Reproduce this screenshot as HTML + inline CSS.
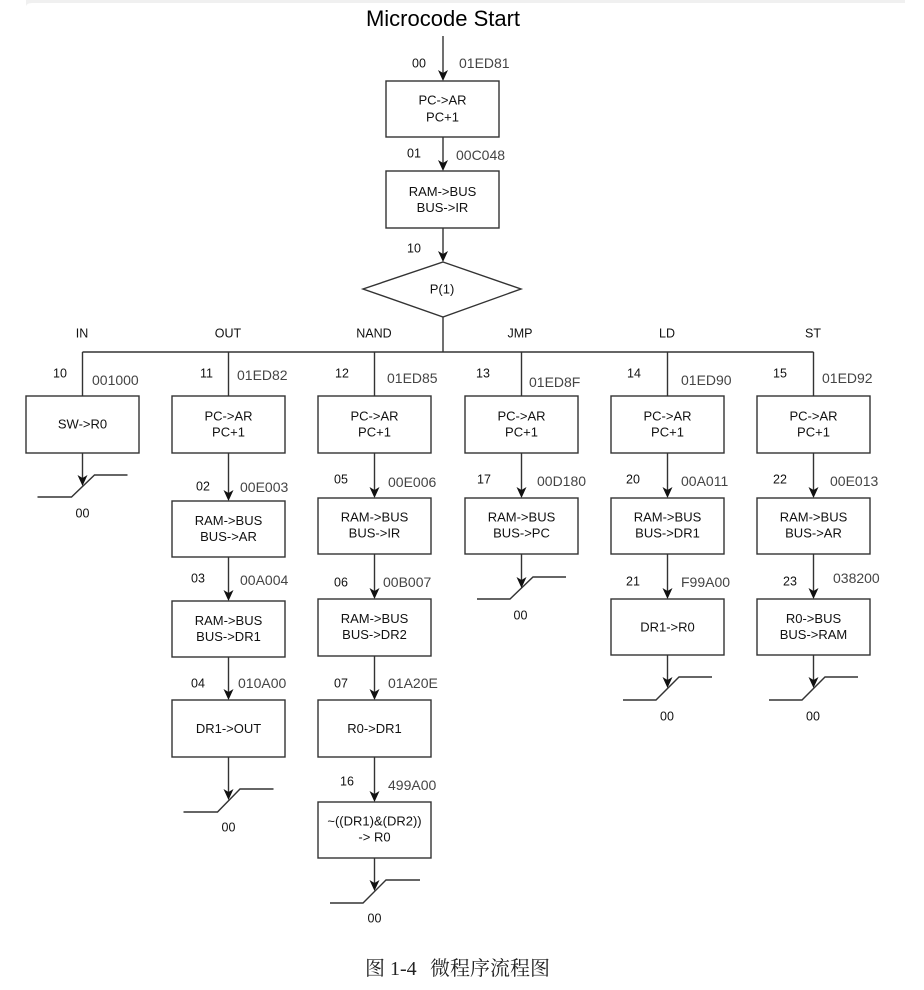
<!DOCTYPE html>
<html>
<head>
<meta charset="utf-8">
<style>
html,body{margin:0;padding:0;background:#fff;}
svg{display:block;}
.t{font-family:"Liberation Sans",Arial,sans-serif;font-size:13px;fill:#111;text-anchor:middle;}
.n{font-family:"Liberation Sans",Arial,sans-serif;font-size:12.5px;fill:#111;}
.h{font-family:"Liberation Sans",Arial,sans-serif;font-size:14px;fill:#444;}
.c{font-family:"Liberation Sans",Arial,sans-serif;font-size:12.5px;fill:#111;text-anchor:middle;}
.b{fill:#fff;stroke:#333;stroke-width:1.4;}
.l{stroke:#333;stroke-width:1.4;fill:none;}
.a{fill:#111;stroke:none;}
.cap{font-family:'Liberation Serif','Noto Serif CJK SC',serif;font-size:20px;fill:#222;}
</style>
</head>
<body>
<svg width="924" height="990" viewBox="0 0 924 990" xmlns="http://www.w3.org/2000/svg">
<path d="M26 0 H905 V3 H32 Q27 3 26 6 Z" fill="#f0f0f0"/>

<!-- Title -->
<text x="443" y="26" style="font-family:'Liberation Sans',Arial,sans-serif;font-size:22px;fill:#000;text-anchor:middle;">Microcode Start</text>

<!-- main trunk -->
<line class="l" x1="443" y1="36" x2="443" y2="76"/>
<path class="a" d="M443 81 L438 70 L443 73 L448 70 Z"/>
<rect class="b" x="386" y="81" width="113" height="56"/>
<text class="t" x="442.5" y="104.6">PC-&gt;AR</text>
<text class="t" x="442.5" y="121.6">PC+1</text>
<text class="n" x="412" y="67.5">00</text>
<text class="h" x="459" y="68">01ED81</text>

<line class="l" x1="443" y1="137" x2="443" y2="166"/>
<path class="a" d="M443 171 L438 160 L443 163 L448 160 Z"/>
<rect class="b" x="386" y="171" width="113" height="57"/>
<text class="t" x="442.5" y="196">RAM-&gt;BUS</text>
<text class="t" x="442.5" y="212">BUS-&gt;IR</text>
<text class="n" x="407" y="157.5">01</text>
<text class="h" x="456" y="160">00C048</text>

<line class="l" x1="443" y1="228" x2="443" y2="257"/>
<path class="a" d="M443 262 L438 251 L443 254 L448 251 Z"/>
<text class="n" x="407" y="252.5">10</text>
<polygon class="b" points="443,262 521,289 443,317 363,289"/>
<text class="t" x="442" y="293.6">P(1)</text>

<line class="l" x1="443" y1="317" x2="443" y2="352"/>
<line class="l" x1="82.5" y1="352" x2="813.5" y2="352"/>

<!-- column labels -->
<text class="c" x="82" y="337.5">IN</text>
<text class="c" x="228" y="337.5">OUT</text>
<text class="c" x="374" y="337.5">NAND</text>
<text class="c" x="520" y="337.5">JMP</text>
<text class="c" x="667" y="337.5">LD</text>
<text class="c" x="813" y="337.5">ST</text>

<!-- branch verticals -->
<line class="l" x1="82.5" y1="352" x2="82.5" y2="396"/>
<line class="l" x1="228.5" y1="352" x2="228.5" y2="396"/>
<line class="l" x1="374.5" y1="352" x2="374.5" y2="396"/>
<line class="l" x1="521.5" y1="352" x2="521.5" y2="396"/>
<line class="l" x1="667.5" y1="352" x2="667.5" y2="396"/>
<line class="l" x1="813.5" y1="352" x2="813.5" y2="396"/>

<!-- row1 labels -->
<text class="n" x="53" y="377.5">10</text><text class="h" x="92" y="385">001000</text>
<text class="n" x="200" y="377.5">11</text><text class="h" x="237" y="380">01ED82</text>
<text class="n" x="335" y="377.5">12</text><text class="h" x="387" y="383">01ED85</text>
<text class="n" x="476" y="377.5">13</text><text class="h" x="529" y="387">01ED8F</text>
<text class="n" x="627" y="377.5">14</text><text class="h" x="681" y="385">01ED90</text>
<text class="n" x="773" y="377.5">15</text><text class="h" x="822" y="383">01ED92</text>

<!-- ===== IN column ===== -->
<rect class="b" x="26" y="396" width="113" height="57"/>
<text class="t" x="82.5" y="428.6">SW-&gt;R0</text>
<line class="l" x1="82.5" y1="453" x2="82.5" y2="481"/>
<path class="l" d="M37.5 497 H71.5 L94.5 475 H127.5"/>
<path class="a" d="M82.5 486 L77.5 475 L82.5 478 L87.5 475 Z"/>
<text class="c" x="82.5" y="517.5">00</text>

<!-- ===== OUT column ===== -->
<rect class="b" x="172" y="396" width="113" height="57"/>
<text class="t" x="228.5" y="420.6">PC-&gt;AR</text>
<text class="t" x="228.5" y="436.6">PC+1</text>
<line class="l" x1="228.5" y1="453" x2="228.5" y2="496"/>
<path class="a" d="M228.5 501 L223.5 490 L228.5 493 L233.5 490 Z"/>
<text class="n" x="196" y="490.5">02</text><text class="h" x="240" y="492">00E003</text>
<rect class="b" x="172" y="501" width="113" height="56"/>
<text class="t" x="228.5" y="525">RAM-&gt;BUS</text>
<text class="t" x="228.5" y="541">BUS-&gt;AR</text>
<line class="l" x1="228.5" y1="557" x2="228.5" y2="596"/>
<path class="a" d="M228.5 601 L223.5 590 L228.5 593 L233.5 590 Z"/>
<text class="n" x="191" y="582.5">03</text><text class="h" x="240" y="585">00A004</text>
<rect class="b" x="172" y="601" width="113" height="56"/>
<text class="t" x="228.5" y="625">RAM-&gt;BUS</text>
<text class="t" x="228.5" y="641">BUS-&gt;DR1</text>
<line class="l" x1="228.5" y1="657" x2="228.5" y2="695"/>
<path class="a" d="M228.5 700 L223.5 689 L228.5 692 L233.5 689 Z"/>
<text class="n" x="191" y="687.5">04</text><text class="h" x="238" y="688">010A00</text>
<rect class="b" x="172" y="700" width="113" height="57"/>
<text class="t" x="228.5" y="733">DR1-&gt;OUT</text>
<line class="l" x1="228.5" y1="757" x2="228.5" y2="795"/>
<path class="l" d="M183.5 812 H217.5 L240 789 H273.5"/>
<path class="a" d="M228.5 800 L223.5 789 L228.5 792 L233.5 789 Z"/>
<text class="c" x="228.5" y="831.5">00</text>

<!-- ===== NAND column ===== -->
<rect class="b" x="318" y="396" width="113" height="57"/>
<text class="t" x="374.5" y="420.6">PC-&gt;AR</text>
<text class="t" x="374.5" y="436.6">PC+1</text>
<line class="l" x1="374.5" y1="453" x2="374.5" y2="493"/>
<path class="a" d="M374.5 498 L369.5 487 L374.5 490 L379.5 487 Z"/>
<text class="n" x="334" y="483.5">05</text><text class="h" x="388" y="487">00E006</text>
<rect class="b" x="318" y="498" width="113" height="56"/>
<text class="t" x="374.5" y="521.6">RAM-&gt;BUS</text>
<text class="t" x="374.5" y="537.6">BUS-&gt;IR</text>
<line class="l" x1="374.5" y1="554" x2="374.5" y2="594"/>
<path class="a" d="M374.5 599 L369.5 588 L374.5 591 L379.5 588 Z"/>
<text class="n" x="334" y="586.5">06</text><text class="h" x="383" y="587">00B007</text>
<rect class="b" x="318" y="599" width="113" height="57"/>
<text class="t" x="374.5" y="623">RAM-&gt;BUS</text>
<text class="t" x="374.5" y="639">BUS-&gt;DR2</text>
<line class="l" x1="374.5" y1="656" x2="374.5" y2="695"/>
<path class="a" d="M374.5 700 L369.5 689 L374.5 692 L379.5 689 Z"/>
<text class="n" x="334" y="687.5">07</text><text class="h" x="388" y="688">01A20E</text>
<rect class="b" x="318" y="700" width="113" height="57"/>
<text class="t" x="374.5" y="733">R0-&gt;DR1</text>
<line class="l" x1="374.5" y1="757" x2="374.5" y2="797"/>
<path class="a" d="M374.5 802 L369.5 791 L374.5 794 L379.5 791 Z"/>
<text class="n" x="340" y="785.5">16</text><text class="h" x="388" y="790">499A00</text>
<rect class="b" x="318" y="802" width="113" height="56"/>
<text class="t" x="374.5" y="825.6">~((DR1)&amp;(DR2))</text>
<text class="t" x="374.5" y="841.6">-&gt; R0</text>
<line class="l" x1="374.5" y1="858" x2="374.5" y2="886"/>
<path class="l" d="M330 903 H363 L386 880 H420"/>
<path class="a" d="M374.5 891 L369.5 880 L374.5 883 L379.5 880 Z"/>
<text class="c" x="374.5" y="922.5">00</text>

<!-- ===== JMP column ===== -->
<rect class="b" x="465" y="396" width="113" height="57"/>
<text class="t" x="521.5" y="420.6">PC-&gt;AR</text>
<text class="t" x="521.5" y="436.6">PC+1</text>
<line class="l" x1="521.5" y1="453" x2="521.5" y2="493"/>
<path class="a" d="M521.5 498 L516.5 487 L521.5 490 L526.5 487 Z"/>
<text class="n" x="477" y="483.5">17</text><text class="h" x="537" y="486">00D180</text>
<rect class="b" x="465" y="498" width="113" height="56"/>
<text class="t" x="521.5" y="521.6">RAM-&gt;BUS</text>
<text class="t" x="521.5" y="537.6">BUS-&gt;PC</text>
<line class="l" x1="521.5" y1="554" x2="521.5" y2="583"/>
<path class="l" d="M477 599 H510 L533 577 H566"/>
<path class="a" d="M521.5 588 L516.5 577 L521.5 580 L526.5 577 Z"/>
<text class="c" x="520.5" y="619.5">00</text>

<!-- ===== LD column ===== -->
<rect class="b" x="611" y="396" width="113" height="57"/>
<text class="t" x="667.5" y="420.6">PC-&gt;AR</text>
<text class="t" x="667.5" y="436.6">PC+1</text>
<line class="l" x1="667.5" y1="453" x2="667.5" y2="493"/>
<path class="a" d="M667.5 498 L662.5 487 L667.5 490 L672.5 487 Z"/>
<text class="n" x="626" y="483.5">20</text><text class="h" x="681" y="486">00A011</text>
<rect class="b" x="611" y="498" width="113" height="56"/>
<text class="t" x="667.5" y="521.6">RAM-&gt;BUS</text>
<text class="t" x="667.5" y="537.6">BUS-&gt;DR1</text>
<line class="l" x1="667.5" y1="554" x2="667.5" y2="594"/>
<path class="a" d="M667.5 599 L662.5 588 L667.5 591 L672.5 588 Z"/>
<text class="n" x="626" y="585.5">21</text><text class="h" x="681" y="587">F99A00</text>
<rect class="b" x="611" y="599" width="113" height="56"/>
<text class="t" x="667.5" y="631.6">DR1-&gt;R0</text>
<line class="l" x1="667.5" y1="655" x2="667.5" y2="683"/>
<path class="l" d="M623 700 H656 L679 677 H712"/>
<path class="a" d="M667.5 688 L662.5 677 L667.5 680 L672.5 677 Z"/>
<text class="c" x="667" y="720.5">00</text>

<!-- ===== ST column ===== -->
<rect class="b" x="757" y="396" width="113" height="57"/>
<text class="t" x="813.5" y="420.6">PC-&gt;AR</text>
<text class="t" x="813.5" y="436.6">PC+1</text>
<line class="l" x1="813.5" y1="453" x2="813.5" y2="493"/>
<path class="a" d="M813.5 498 L808.5 487 L813.5 490 L818.5 487 Z"/>
<text class="n" x="773" y="483.5">22</text><text class="h" x="830" y="486">00E013</text>
<rect class="b" x="757" y="498" width="113" height="56"/>
<text class="t" x="813.5" y="521.6">RAM-&gt;BUS</text>
<text class="t" x="813.5" y="537.6">BUS-&gt;AR</text>
<line class="l" x1="813.5" y1="554" x2="813.5" y2="594"/>
<path class="a" d="M813.5 599 L808.5 588 L813.5 591 L818.5 588 Z"/>
<text class="n" x="783" y="585.5">23</text><text class="h" x="833" y="583">038200</text>
<rect class="b" x="757" y="599" width="113" height="56"/>
<text class="t" x="813.5" y="623">R0-&gt;BUS</text>
<text class="t" x="813.5" y="639">BUS-&gt;RAM</text>
<line class="l" x1="813.5" y1="655" x2="813.5" y2="683"/>
<path class="l" d="M769 700 H802 L825 677 H858"/>
<path class="a" d="M813.5 688 L808.5 677 L813.5 680 L818.5 677 Z"/>
<text class="c" x="813" y="720.5">00</text>

<!-- caption -->
<text class="cap" x="365" y="975">图 1-4</text>
<text class="cap" x="430" y="975">微程序流程图</text>
</svg>
</body>
</html>
